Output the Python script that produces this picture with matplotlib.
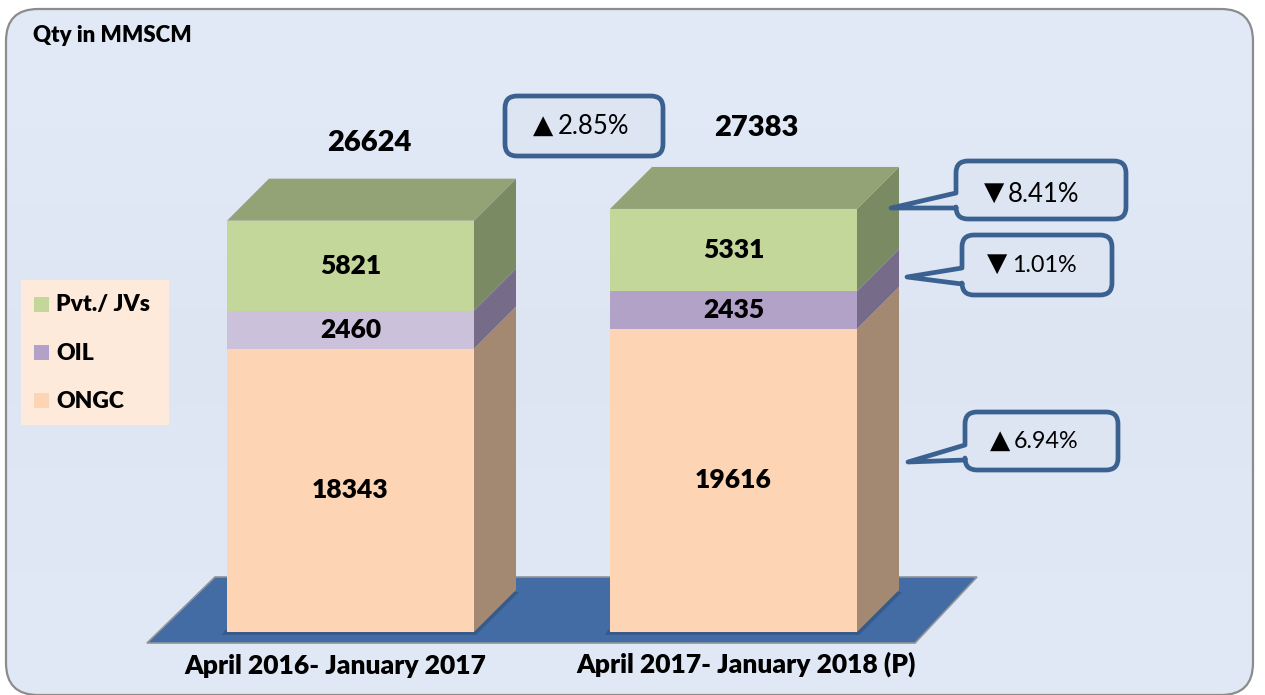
import numpy as np
import matplotlib
matplotlib.use("Agg")
import matplotlib.pyplot as plt
from matplotlib.patches import PathPatch, Polygon, Rectangle, FancyBboxPatch
from matplotlib.path import Path

# ---- data ----
periods = ["April 2016- January 2017", "April 2017- January 2018 (P)"]
totals = [26624, 27383]
ongc = [18343, 19616]
oil = [2460, 2435]
pvt = [5821, 5331]
series_names = ["ONGC", "OIL", "Pvt./ JVs"]
total_change = "2.85%"
change_labels = ["6.94%", "1.01%", "8.41%"]
UP, DOWN = "▲", "▼"

# ---- styles ----
W, H = 1265, 695
FONT = ["Lato", "DejaVu Sans"]
WT = "heavy"
front = {"ONGC": ["#FDD4B4", "#FDD4B4"], "OIL": ["#CCC1DA", "#B3A2C7"], "Pvt./ JVs": ["#C4D79B", "#C4D79B"]}
side = {"ONGC": "#A38872", "OIL": "#776B8A", "Pvt./ JVs": "#7A8A62"}
legend_col = {"ONGC": "#FDD4B4", "OIL": "#B3A2C7", "Pvt./ JVs": "#C4D79B"}
TOP_COL = "#94A376"
BLUE = "#3B6191"
PXU = 0.01545       # pixels per MMSCM
BASE = 632          # pixel row of value 0
DEPTH = 42          # 3-D depth in px
BAR_L = [227, 610]
BAR_W = 247

fig = plt.figure(figsize=(W / 100, H / 100), dpi=100, facecolor="white")

# pixel-space overlay for decoration
deco = fig.add_axes([0, 0, 1, 1], zorder=1)
deco.set_xlim(0, W); deco.set_ylim(H, 0); deco.axis("off")

panel = FancyBboxPatch((6 + 32, 9 + 32), 1247 - 64, 686 - 64,
                       boxstyle="round,pad=32,rounding_size=32",
                       fc="none", ec="#8C8C8C", lw=1.6, zorder=3)
deco.add_patch(panel)
grad = np.array([[0.886, 0.914, 0.965], [0.867, 0.898, 0.953], [0.882, 0.910, 0.961]])[:, None, :]
im = deco.imshow(grad, extent=(6, 1253, 695, 9), aspect="auto", interpolation="bilinear", zorder=1)
im.set_clip_path(panel)
deco.set_xlim(0, W); deco.set_ylim(H, 0)

# floor
deco.add_patch(Polygon([(147, 643), (215, 577), (977, 577), (915, 643)], closed=True,
                       fc="#426CA3", ec="#8F9499", lw=1.2, zorder=2))
for l in BAR_L:
    deco.add_patch(Polygon([(l - 5, 635), (l + BAR_W + 2, 635), (l + BAR_W + DEPTH + 3, 592),
                            (l + BAR_W + DEPTH - 4, 592), (l + BAR_W, 630), (l - 2, 630)],
                           closed=True, fc="#365A8C", ec="none", zorder=2))

# value axes: x in pixels, y in MMSCM
ax = fig.add_axes([0, 0, 1, 1], zorder=2)
ax.patch.set_alpha(0)
ax.set_xlim(0, W)
ax.set_ylim(-(H - BASE) / PXU, BASE / PXU)
ax.axis("off")

dy = DEPTH / PXU
values = {"ONGC": ongc, "OIL": oil, "Pvt./ JVs": pvt}
bottom = np.zeros(2)
for name in series_names:
    v = np.array(values[name], dtype=float)
    ax.bar(BAR_L, v, width=BAR_W, bottom=bottom, align="edge", color=front[name], lw=0, zorder=3)
    for i, l in enumerate(BAR_L):
        r = l + BAR_W
        ax.add_patch(Polygon([(r, bottom[i]), (r + DEPTH, bottom[i] + dy),
                              (r + DEPTH, bottom[i] + v[i] + dy), (r, bottom[i] + v[i])],
                             closed=True, fc=side[name], ec="none", zorder=3))
        ax.text(l + BAR_W / 2, bottom[i] + v[i] / 2, f"{values[name][i]}", ha="center", va="center",
                fontsize=19, fontweight=WT, family=FONT, color="black", zorder=5)
    bottom = bottom + v

for i, l in enumerate(BAR_L):
    r = l + BAR_W
    ax.add_patch(Polygon([(l, bottom[i]), (l + DEPTH, bottom[i] + dy), (r + DEPTH, bottom[i] + dy), (r, bottom[i])],
                         closed=True, fc=TOP_COL, ec="none", zorder=3))

# totals and category labels
for cx, cy, t in zip([369, 756], [143, 128], totals):
    deco.text(cx, cy, f"{t}", ha="center", va="center", fontsize=21, fontweight=WT, family=FONT, zorder=6)
top = fig.add_axes([0, 0, 1, 1], zorder=3)
top.set_xlim(0, W); top.set_ylim(H, 0); top.axis("off"); top.patch.set_alpha(0)

for cx, cy, p in zip([335, 746], [666, 664], periods):
    top.text(cx, cy, p, ha="center", va="center", fontsize=19, fontweight=WT, family=FONT)
top.text(33, 36, "Qty in MMSCM", ha="left", va="center", fontsize=16, fontweight=WT, family=FONT)

# legend
top.add_patch(Rectangle((21, 280), 148, 145, fc="#FDEADA", ec="none"))
for name, y in zip(series_names, [401, 353, 305]):
    top.add_patch(Rectangle((34, y - 8), 15, 15, fc=legend_col[name], ec="none"))
    top.text(56, y, name, ha="left", va="center", fontsize=16.5, fontweight=WT, family=FONT)


def callout(x0, y0, x1, y1, tail=None, r=12):
    verts = [(x0 + r, y0), (x1 - r, y0), (x1, y0), (x1, y0 + r), (x1, y1 - r), (x1, y1), (x1 - r, y1),
             (x0 + r, y1), (x0, y1), (x0, y1 - r)]
    codes = [Path.MOVETO, Path.LINETO, Path.CURVE3, Path.CURVE3, Path.LINETO, Path.CURVE3, Path.CURVE3,
             Path.LINETO, Path.CURVE3, Path.CURVE3]
    if tail:
        ty0, ty1, tx, ty = tail
        verts += [(x0, ty1), (tx, ty), (x0, ty0)]
        codes += [Path.LINETO, Path.LINETO, Path.LINETO]
    verts += [(x0, y0 + r), (x0, y0), (x0 + r, y0), (x0 + r, y0)]
    codes += [Path.LINETO, Path.CURVE3, Path.CURVE3, Path.CLOSEPOLY]
    top.add_patch(PathPatch(Path(verts, codes), fc="#DDE5F3", ec=BLUE, lw=3.4, joinstyle="round"))


def change(tri, tx, label, lx, y, size):
    top.text(tx, y - 1, tri, ha="center", va="center", fontsize=19, family="DejaVu Sans")
    top.text(lx, y, label, ha="left", va="center", fontsize=size, family=FONT)


callout(505, 96, 663, 156)
change(UP, 543, total_change, 558, 127, 18.5)
callout(956, 161, 1126, 219, (193, 208, 891, 208))
change(DOWN, 994, change_labels[2], 1008, 194, 18.5)
callout(962, 235, 1112, 295, (268, 284, 907, 277))
change(DOWN, 997, change_labels[1], 1012, 265, 16.8)
callout(965, 412, 1118, 470, (445, 460, 908, 462))
change(UP, 1000, change_labels[0], 1014, 442, 16.8)

fig.savefig("out.png", dpi=100, facecolor="white")
